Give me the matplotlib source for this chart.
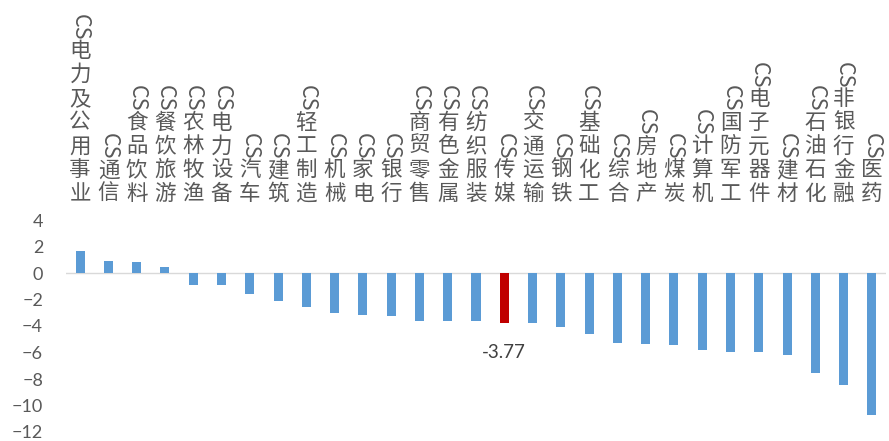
import matplotlib
matplotlib.use("Agg")
import matplotlib.pyplot as plt
from matplotlib.transforms import blended_transform_factory
import numpy as np

# 中信一级行业涨跌幅(%)
industries = ["电力及公用事业", "通信", "食品饮料", "餐饮旅游", "农林牧渔", "电力设备",
              "汽车", "建筑", "轻工制造", "机械", "家电", "银行", "商贸零售", "有色金属",
              "纺织服装", "传媒", "交通运输", "钢铁", "基础化工", "综合", "房地产", "煤炭",
              "计算机", "国防军工", "电子元器件", "建材", "石油石化", "非银行金融", "医药"]
returns = [1.68, 0.93, 0.80, 0.43, -0.92, -0.92, -1.60, -2.08, -2.56, -3.05, -3.16,
           -3.23, -3.63, -3.63, -3.63, -3.77, -3.80, -4.08, -4.59, -5.26, -5.36, -5.46,
           -5.83, -5.94, -5.94, -6.21, -7.56, -8.44, -10.75]
highlight = "传媒"

W, H = 889, 441
fig = plt.figure(figsize=(W / 100, H / 100), dpi=100)
ax = fig.add_axes([66 / W, 1 - 432 / H, (886 - 66) / W, (432 - 220) / H])

x = np.arange(len(industries))
colors = ["#C00000" if n == highlight else "#5B9BD5" for n in industries]
ax.bar(x, returns, width=0.32, color=colors, zorder=2)
ax.axhline(0, color="#D9D9D9", lw=1, zorder=1)

ax.set_xlim(-0.5, len(industries) - 0.5)
ax.set_ylim(-12, 4)
ax.set_yticks(range(-12, 5, 2))
ax.set_xticks([])
for s in ax.spines.values():
    s.set_visible(False)
ax.tick_params(axis="y", length=0, pad=16.5, labelsize=13, labelcolor="#595959")
for lab in ax.get_yticklabels():
    lab.set_family("Lato")

# vertical category labels: characters stacked upward from a common baseline
trans = blended_transform_factory(ax.transData, fig.transFigure)
cjk = ["Noto Sans CJK SC", "DejaVu Sans"]
pitch = 23.8
base = 194
for i, name in enumerate(industries):
    for k, ch in enumerate(reversed(name)):
        ax.text(i, 1 - (base - k * pitch) / H, ch, transform=trans, ha="center",
                va="center", fontsize=15.5, color="#595959", family=cjk)
    top = base - (len(name) - 1) * pitch - 24
    ax.text(i, 1 - top / H, "CS", transform=trans, ha="center", va="center",
            rotation=-90, fontsize=15.5, color="#595959", family=cjk)

# value label under the highlighted bar
hi = industries.index(highlight)
ax.annotate(f"{returns[hi]:.2f}", (hi, returns[hi]), xytext=(0, -21),
            textcoords="offset points", ha="center", va="center",
            fontsize=13.5, color="#404040", family="Lato")

fig.savefig("out.png", dpi=100)
